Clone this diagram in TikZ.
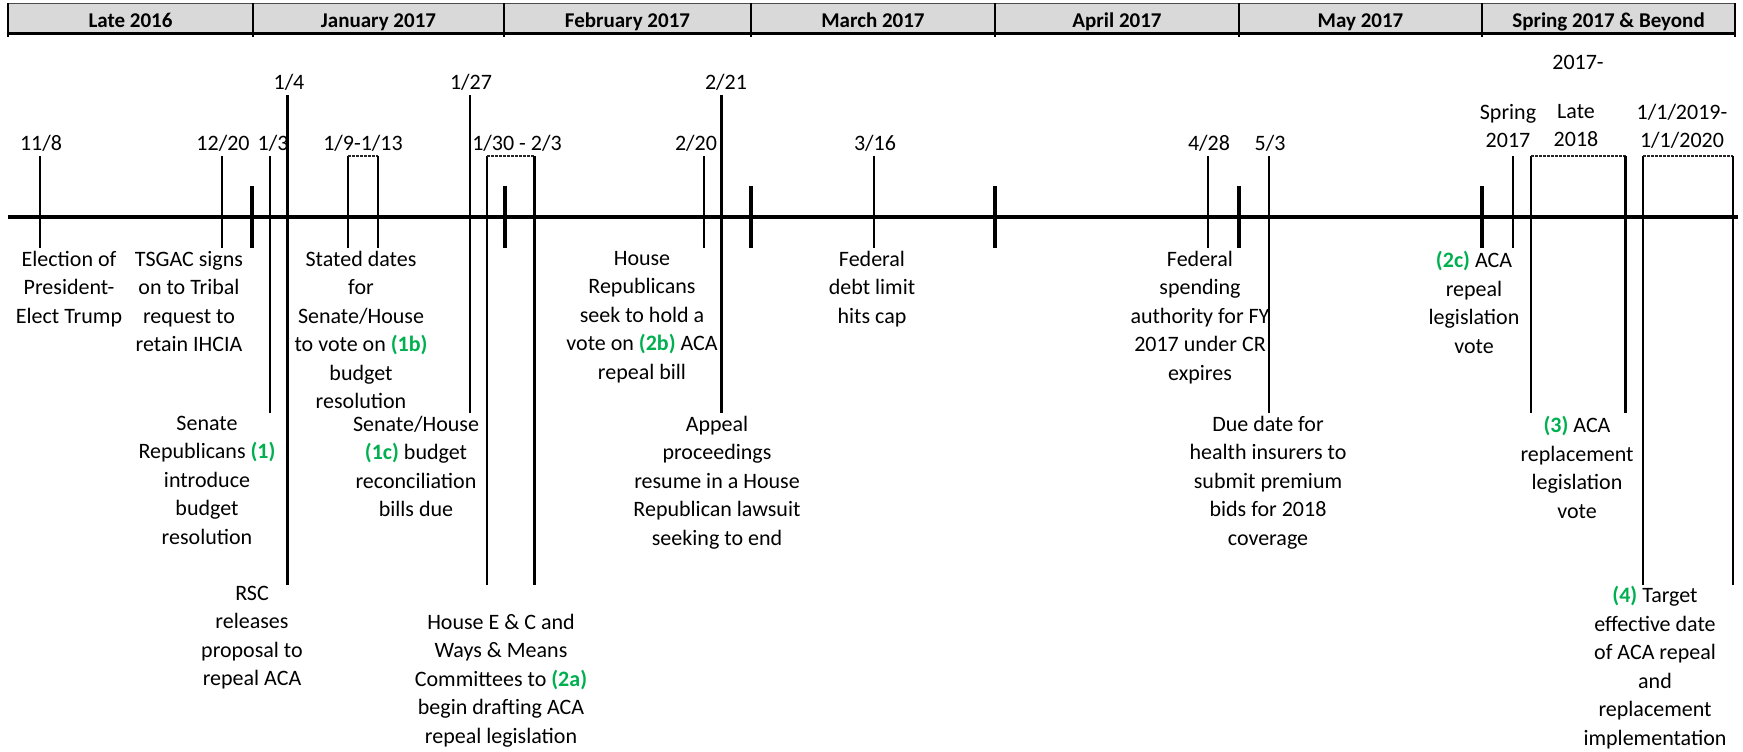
\documentclass[tikz,border=0pt]{standalone}
\usepackage{fontspec}
\setmainfont{Carlito}
\usepackage{xcolor}
\usepackage{tikz}

\definecolor{keygreen}{HTML}{00B050}
\definecolor{bandgray}{HTML}{D9D9D9}
\newcommand{\keystep}[1]{\textcolor{keygreen}{\textbf{#1}}}

\begin{document}
\begin{tikzpicture}[x=1pt,y=-1pt]
\tikzstyle{every node}+=[inner sep=0pt]
\tikzset{
  hdrlbl/.style={anchor=base, font=\fontsize{21}{26}\selectfont\bfseries},
  datelbl/.style={anchor=north, align=center, font=\fontsize{22}{28.5}\selectfont, execute at begin node=\strut},
  evtext/.style={datelbl},
  evline/.style={line width=2.2pt},
  longline/.style={line width=3pt},
  bside/.style={line width=2.6pt},
  bcap/.style={line width=2pt, black!85, dash pattern=on 3pt off 1pt},
  monthtick/.style={line width=4pt}
}
\useasboundingbox (0,0) rectangle (1743,752);
% header band
\fill[bandgray] (8,3.5) rectangle (1735,33.5);
\draw[line width=1pt, black!70] (8,3.5) -- (1735,3.5);
\draw[line width=2.5pt] (8,33.5) -- (1735,33.5);
\foreach \x in {8,253,504,751,995,1239,1482,1735}
  \draw[line width=2pt] (\x,3.5) -- (\x,37);
\node[hdrlbl] (h1) at (130.5,27.5) {Late 2016};
\node[hdrlbl] (h2) at (378.5,27.5) {January 2017};
\node[hdrlbl] (h3) at (627.5,27.5) {February 2017};
\node[hdrlbl] (h4) at (873,27.5) {March 2017};
\node[hdrlbl] (h5) at (1117,27.5) {April 2017};
\node[hdrlbl] (h6) at (1360.5,27.5) {May 2017};
\node[hdrlbl] (h7) at (1608.5,27.5) {Spring 2017 \& Beyond};
% time axis
\draw[line width=3.5pt] (8,217) -- (1738,217);
\foreach \x in {252,505,751,995,1239,1482}
  \draw[monthtick] (\x,186) -- (\x,248);
% 11/8
\draw[evline] (40,156) -- (40,248);
\node[datelbl] (d1) at (41,130) {11/8};
\node[evtext] (t1) at (69,251) {Election of\\President-\\Elect Trump};
% 12/20
\draw[evline] (222,156) -- (222,248);
\node[datelbl] (d2) at (223,130) {12/20};
\node[evtext] (t2) at (189,251) {TSGAC signs\\on to Tribal\\request to\\retain IHCIA};
% 1/3
\draw[evline] (270,156) -- (270,413);
\node[datelbl] (d3) at (273,130) {1/3};
\node[evtext] (t3) at (207,416) {Senate\\Republicans \keystep{(1)}\\introduce\\budget\\resolution};
% 1/4
\draw[longline] (287.5,95) -- (287.5,585);
\node[datelbl] (d4) at (289,69) {1/4};
\node[evtext] (t4) at (252,586) {RSC\\releases\\proposal to\\repeal ACA};
% 1/9-1/13
\draw[bside] (348,248) -- (348,156);
\draw[bcap] (348,156) -- (378,156);
\draw[bside] (378,156) -- (378,248);
\node[datelbl] (d5) at (363,130) {1/9-1/13};
\node[evtext] (t5) at (361,251) {Stated dates\\for\\Senate/House\\to vote on \keystep{(1b)}\\budget\\resolution};
% 1/27
\draw[evline] (470,95) -- (470,413);
\node[datelbl] (d6) at (471,69) {1/27};
\node[evtext] (t6) at (416,416) {Senate/House\\\keystep{(1c)} budget\\reconciliation\\bills due};
% 1/30 - 2/3
\draw[bside] (487,585) -- (487,156);
\draw[bcap] (487,156) -- (534.5,156);
\draw[bside] (534.5,156) -- (534.5,585);
\node[datelbl] (d7) at (517,130) {1/30 - 2/3};
\node[evtext] (t7) at (501,614) {House E \& C and\\Ways \& Means\\Committees to \keystep{(2a)}\\begin drafting ACA\\repeal legislation};
% 2/20
\draw[evline] (704,156) -- (704,248);
\node[datelbl] (d8) at (696,130) {2/20};
\node[evtext] (t8) at (642,251) {House\\Republicans\\seek to hold a\\vote on \keystep{(2b)} ACA\\repeal bill};
% 2/21
\draw[longline] (721.5,95) -- (721.5,413);
\node[datelbl] (d9) at (726,69) {2/21};
\node[evtext] (t9) at (717,416) {Appeal\\proceedings\\resume in a House\\Republican lawsuit\\seeking to end};
% 3/16
\draw[evline] (874,156) -- (874,248);
\node[datelbl] (d10) at (875,130) {3/16};
\node[evtext] (t10) at (872,251) {Federal\\debt limit\\hits cap};
% 4/28
\draw[evline] (1208,156) -- (1208,248);
\node[datelbl] (d11) at (1209,130) {4/28};
\node[evtext] (t11) at (1200,251) {Federal\\spending\\authority for FY\\2017 under CR\\expires};
% 5/3
\draw[evline] (1269,156) -- (1269,413);
\node[datelbl] (d12) at (1270,130) {5/3};
\node[evtext] (t12) at (1268,416) {Due date for\\health insurers to\\submit premium\\bids for 2018\\coverage};
% Spring 2017
\draw[evline] (1513,156) -- (1513,248);
\node[datelbl] (d13) at (1508,104) {Spring\\2017};
\node[evtext] (t13) at (1474,251) {\keystep{(2c)} ACA\\repeal\\legislation\\vote};
% Late 2018
\draw[bside] (1531,413) -- (1531,156);
\draw[bcap] (1531,156) -- (1625.5,156);
\draw[bside] (1625.5,156) -- (1625.5,413);
\node[datelbl] (d14a) at (1578,49) {2017-};
\node[datelbl] (d14) at (1576,104) {Late\\2018};
\node[evtext] (t14) at (1577,416) {\keystep{(3)} ACA\\replacement\\legislation\\vote};
% 1/1/2019 - 1/1/2020
\draw[bside] (1643,585) -- (1643,156);
\draw[bcap] (1643,156) -- (1733,156);
\draw[bside] (1733,156) -- (1733,585);
\node[datelbl] (d15) at (1682,104) {1/1/2019-\\1/1/2020};
\node[evtext] (t15) at (1655,586) {\keystep{(4)} Target\\effective date\\of ACA repeal\\and\\replacement\\implementation};
\end{tikzpicture}
\end{document}
